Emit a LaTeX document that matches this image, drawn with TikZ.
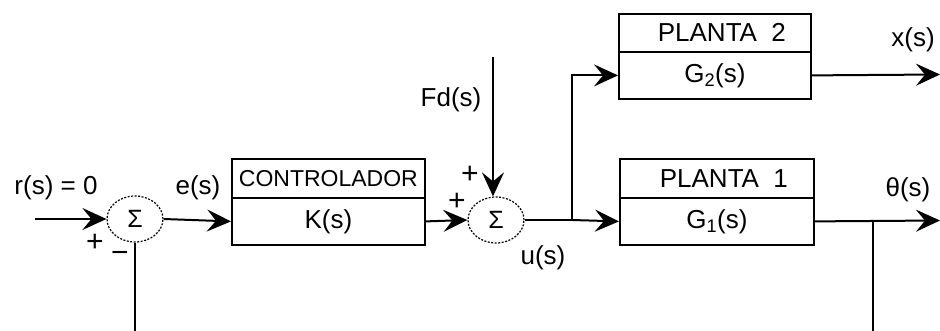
\documentclass[tikz,border=0pt]{standalone}
\usepackage{fontspec}
\setmainfont{Liberation Sans}
\usetikzlibrary{arrows.meta,shapes.geometric}
\begin{document}
\begin{tikzpicture}[x=1pt,y=-1pt,
  font=\fontsize{26}{29}\selectfont,
  ln/.style={line width=2pt},
  arr/.style={ln,-{Stealth[length=24pt,width=22pt,inset=9pt]}},
  sumnode/.style={ellipse,draw,line width=1.2pt,dash pattern=on 2pt off 1.5pt,minimum width=56pt,minimum height=46pt,inner sep=0pt,font=\fontsize{25}{28}\selectfont},
  boxtop/.style={draw,line width=1.8pt,minimum height=39pt,inner sep=0pt,anchor=north west},
  boxbot/.style={draw,line width=1.8pt,minimum height=47pt,inner sep=0pt,anchor=north west},
  lbl/.style={inner sep=0pt},
  sgn/.style={inner sep=0pt,font=\fontsize{30}{32}\selectfont}]
\useasboundingbox (0,0) rectangle (940,331);
% summing junctions
\node[sumnode] (s1) at (135,219) {Σ};
\node[sumnode] (s2) at (496,220) {Σ};
% controller
\node[boxtop,minimum width=193pt] (ctrlT) at (231,158) {\fontsize{23}{26}\selectfont CONTROLADOR};
\node[boxbot,minimum width=193pt] (ctrl) at (231,197) {K(s)};
% plant 2
\node[boxtop,minimum width=192pt,minimum height=38pt] (p2T) at (618,13) {\hspace*{14pt}PLANTA\ \ 2};
\node[boxbot,minimum width=192pt] (p2) at (618,51) {G\textsubscript{2}(s)};
% plant 1
\node[boxtop,minimum width=194pt] (p1T) at (619,158) {\hspace*{14pt}PLANTA\ \ 1};
\node[boxbot,minimum width=194pt] (p1) at (619,197) {G\textsubscript{1}(s)};
% coordinates
\coordinate (rin) at (35,219);
\coordinate (fdtop) at (493,57);
\coordinate (j1) at (572,220);
\coordinate (j2) at (873,220.5);
\coordinate (xout) at (940,74.5);
\coordinate (thout) at (940,220.5);
\coordinate (fb1) at (135,331);
\coordinate (fb2) at (873,331);
% connectors
\draw[arr] (rin) -- (s1.west);
\draw[arr] (s1.east) -- (ctrl.west);
\draw[arr] (ctrl.east) -- (s2.west);
\draw[arr] (fdtop) -- (fdtop |- s2.north);
\draw[ln] (s2.east) -- (j1);
\draw[arr] (j1) -- (p1.west);
\draw[arr] (j1) |- (p2.west);
\draw[arr] (p2.east) -- (xout);
\draw[arr] (p1.east) -- (thout);
\draw[ln] (j2) -- (fb2);
\draw[ln] (s1.south) -- (fb1);
% labels
\node[lbl] (lr) at (56,188) {r(s) = 0};
\node[lbl] (le) at (198,188) {e(s)};
\node[lbl] (lfd) at (451,100) {Fd(s)};
\node[lbl] (lu) at (543,258) {u(s)};
\node[lbl] (lx) at (913,40) {x(s)};
\node[lbl] (lth) at (908,190) {θ(s)};
\node[sgn] (pl1) at (95,243) {+};
\node[sgn] (mi1) at (120,257) {\textminus};
\node[sgn] (pl2) at (470,175) {+};
\node[sgn] (pl3) at (457,202) {+};
\end{tikzpicture}
\end{document}
